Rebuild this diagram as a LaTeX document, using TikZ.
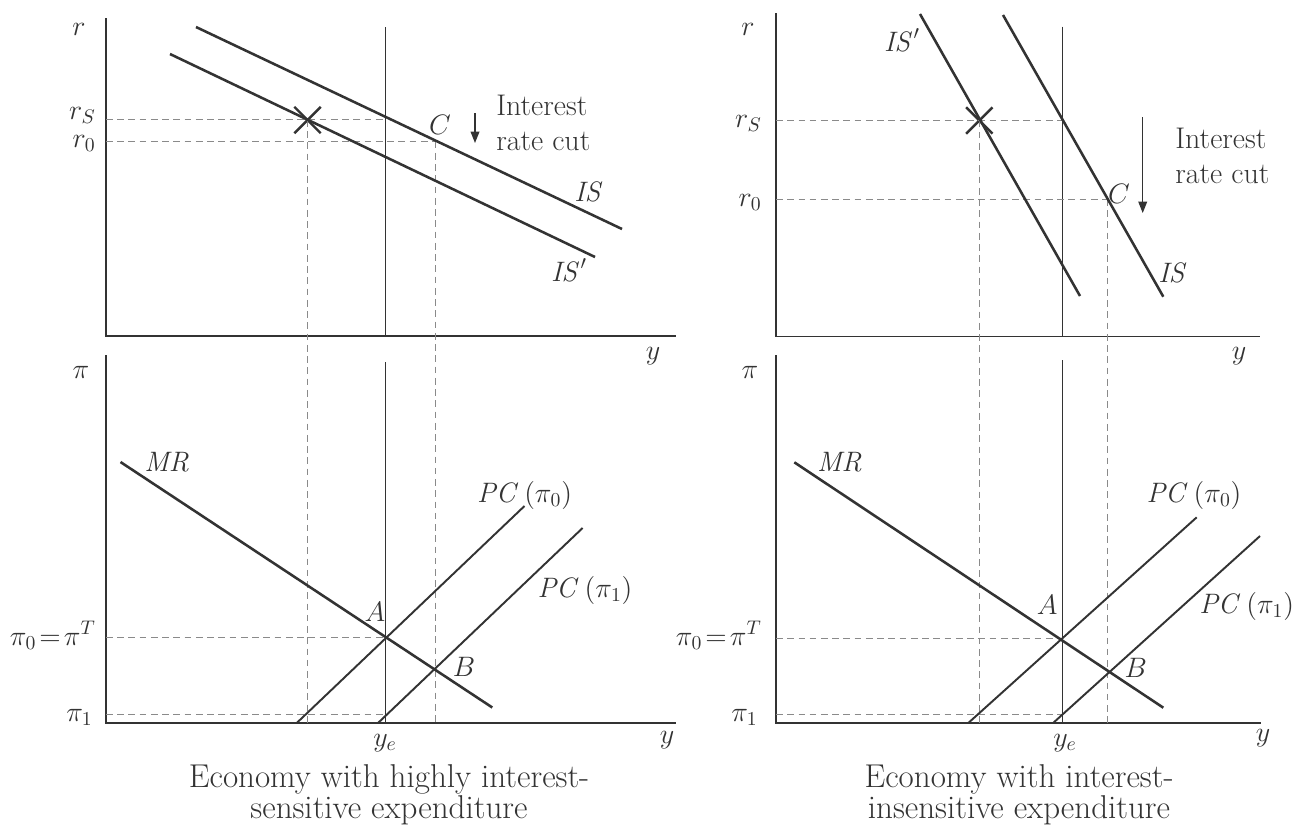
\documentclass[tikz,border=0pt]{standalone}
\usepackage{fix-cm}
\usetikzlibrary{arrows.meta,shapes.misc}
\definecolor{ink}{HTML}{333333}
\definecolor{guidegray}{HTML}{8A8A8A}
\begin{document}
\begin{tikzpicture}[x=0.02cm,y=-0.02cm,
  axisline/.style={line width=0.9pt, draw=ink},
  curve/.style={line width=1.45pt, draw=ink},
  pcline/.style={line width=1.1pt, draw=ink},
  yeline/.style={line width=0.75pt, draw=ink},
  guide/.style={line width=0.55pt, draw=guidegray, dash pattern=on 3.8pt off 2.6pt},
  lbl/.style={inner sep=0pt, text=ink, font=\fontsize{16}{18}\selectfont},
  notetext/.style={inner sep=0pt, text=ink, font=\fontsize{17}{20}\selectfont},
  captext/.style={inner sep=0pt, text=ink, align=center, font=\fontsize{18.8}{15.4}\selectfont},
  xmark/.style={cross out, draw=ink, line width=1.4pt, minimum size=13.6pt, inner sep=0pt},
  cutarrow/.style={draw=ink, line width=0.7pt, -{Triangle[width=5pt,length=6.5pt]}}
]
\path[use as bounding box, fill=white] (0,0) rectangle (1304,833);

%================ LEFT PANEL =================
\coordinate (LtTop) at (106,18);
\coordinate (LtO) at (106,336);
\coordinate (LtEnd) at (676,336);
\draw[axisline] (LtTop) -- (LtO) -- (LtEnd);
\coordinate (LbTop) at (106,355);
\coordinate (LbO) at (106,723);
\coordinate (LbEnd) at (676,723);
\draw[axisline] (LbTop) -- (LbO) -- (LbEnd);
\coordinate (LyeT1) at (385.5,27);
\coordinate (LyeB1) at (385.5,336);
\coordinate (LyeT2) at (385.5,362);
\coordinate (LyeB2) at (385.5,723);
\draw[yeline] (LyeT1) -- (LyeB1);
\draw[yeline] (LyeT2) -- (LyeB2);
\coordinate (LrS) at (106,119.5);
\coordinate (LrSye) at (385.5,119.5);
\coordinate (Lr0) at (106,141.7);
\coordinate (LC) at (435,141.7);
\coordinate (LCbot) at (435,723);
\coordinate (LXbot) at (307.5,723);
\coordinate (LA) at (385.5,637.7);
\coordinate (LB) at (435,668.5);
\coordinate (Lpi0) at (106,637.7);
\coordinate (Lpi1) at (106,714.5);
\coordinate (Lpi1ye) at (385.5,714.5);
\node[xmark] (LX) at (307.5,120) {};
\draw[guide] (LrS) -- (LrSye);
\draw[guide] (Lr0) -- (LC);
\draw[guide] (LX.center) -- (LXbot);
\draw[guide] (LC) -- (LCbot);
\draw[guide] (Lpi0) -- (LA);
\draw[guide] (Lpi1) -- (Lpi1ye);
\coordinate (LIS1) at (196,27);
\coordinate (LIS2) at (622,229);
\coordinate (LISp1) at (170,54);
\coordinate (LISp2) at (595,257);
\draw[curve] (LIS1) -- (LIS2);
\draw[curve] (LISp1) -- (LISp2);
\coordinate (LMR1) at (120.5,462);
\coordinate (LMR2) at (492.3,707.5);
\coordinate (LPC01) at (296.7,723);
\coordinate (LPC02) at (524.5,506);
\coordinate (LPC11) at (378,723);
\coordinate (LPC12) at (582.6,528);
\draw[curve] (LMR1) -- (LMR2);
\draw[pcline] (LPC01) -- (LPC02);
\draw[pcline] (LPC11) -- (LPC12);
\coordinate (LarT) at (475,113);
\coordinate (LarB) at (475,143);
\draw[cutarrow] (LarT) -- (LarB);
\node[lbl, anchor=base] (Lr) at (79,35) {$r$};
\node[lbl, anchor=base east] (LrSl) at (96,119) {$r_S$};
\node[lbl, anchor=base east] (Lr0l) at (96,147) {$r_0$};
\node[lbl] (Lyt) at (653,356) {$y$};
\node[lbl] (LCl) at (440,125) {$C$};
\node[notetext, anchor=base west] (Lint1) at (496,115) {Interest};
\node[notetext, anchor=base west] (Lint2) at (496,150) {rate cut};
\node[lbl] (LISl) at (589,192) {$\mathit{IS}$};
\node[lbl] (LISpl) at (569,270) {$\mathit{IS}'$};
\node[lbl] (Lpi) at (81,372) {$\pi$};
\node[lbl, anchor=base east] (Lpi0l) at (96,645) {$\pi_0\!=\!\pi^T$};
\node[lbl, anchor=base east] (Lpi1l) at (93,721) {$\pi_1$};
\node[lbl, anchor=west] (LMRl) at (144,462) {$\mathit{MR}$};
\node[lbl] (LPC0l) at (524.6,495) {$\mathit{PC}\,(\pi_0)$};
\node[lbl] (LPC1l) at (585,590) {$\mathit{PC}\,(\pi_1)$};
\node[lbl] (LAl) at (375,612) {$A$};
\node[lbl] (LBl) at (464,667) {$B$};
\node[lbl] (Lyel) at (385,743) {$y_e$};
\node[lbl] (Lyb) at (667,740) {$y$};
\node[captext, anchor=north] (Lcap) at (389,764) {Economy with highly interest-\\sensitive expenditure};

%================ RIGHT PANEL =================
\coordinate (RtTop) at (776,13.3);
\coordinate (RtO) at (776,336.5);
\coordinate (RtEnd) at (1260,336.5);
\draw[axisline] (RtTop) -- (RtO) -- (RtEnd);
\coordinate (RbTop) at (776,355);
\coordinate (RbO) at (776,722.7);
\coordinate (RbEnd) at (1261,722.7);
\draw[axisline] (RbTop) -- (RbO) -- (RbEnd);
\coordinate (RyeT1) at (1062.7,26.7);
\coordinate (RyeB1) at (1062.7,336.5);
\coordinate (RyeT2) at (1062.7,360);
\coordinate (RyeB2) at (1062.7,722.7);
\draw[yeline] (RyeT1) -- (RyeB1);
\draw[yeline] (RyeT2) -- (RyeB2);
\coordinate (RrS) at (776,120.5);
\coordinate (RrSye) at (1062.7,120.5);
\coordinate (Rr0) at (776,199);
\coordinate (RC) at (1107.3,199);
\coordinate (RCbot) at (1107.3,722.7);
\coordinate (RXbot) at (979.3,722.7);
\coordinate (RA) at (1062.7,638);
\coordinate (Rpi0) at (776,638);
\coordinate (Rpi1) at (776,714.3);
\coordinate (Rpi1ye) at (1062.7,714.3);
\node[xmark] (RX) at (979.3,120.5) {};
\draw[guide] (RrS) -- (RrSye);
\draw[guide] (Rr0) -- (RC);
\draw[guide] (RX.center) -- (RXbot);
\draw[guide] (RC) -- (RCbot);
\draw[guide] (Rpi0) -- (RA);
\draw[guide] (Rpi1) -- (Rpi1ye);
\coordinate (RIS1) at (1003,15);
\coordinate (RIS2) at (1163.3,296.7);
\coordinate (RISp1) at (920,14);
\coordinate (RISp2) at (1080,296);
\draw[curve] (RIS1) -- (RIS2);
\draw[curve] (RISp1) -- (RISp2);
\coordinate (RMR1) at (794.3,462.3);
\coordinate (RMR2) at (1163.3,707.7);
\coordinate (RPC01) at (968.6,722.7);
\coordinate (RPC02) at (1196.7,517.3);
\coordinate (RPC11) at (1053.4,722.7);
\coordinate (RPC12) at (1260,536);
\draw[curve] (RMR1) -- (RMR2);
\draw[pcline] (RPC01) -- (RPC02);
\draw[pcline] (RPC11) -- (RPC12);
\coordinate (RarT) at (1142.7,117);
\coordinate (RarB) at (1142.7,213);
\draw[cutarrow] (RarT) -- (RarB);
\node[lbl, anchor=base] (Rr) at (748,35) {$r$};
\node[lbl, anchor=base east] (RrSl) at (762,127) {$r_S$};
\node[lbl, anchor=base east] (Rr0l) at (762,206) {$r_0$};
\node[lbl] (Ryt) at (1239,356) {$y$};
\node[lbl] (RCl) at (1119,194) {$C$};
\node[notetext, anchor=base west] (Rint1) at (1175,148) {Interest};
\node[notetext, anchor=base west] (Rint2) at (1175,183) {rate cut};
\node[lbl] (RISl) at (1173,273) {$\mathit{IS}$};
\node[lbl] (RISpl) at (902,40) {$\mathit{IS}'$};
\node[lbl] (Rpi) at (750,372) {$\pi$};
\node[lbl, anchor=base east] (Rpi0l) at (762,645) {$\pi_0\!=\!\pi^T$};
\node[lbl, anchor=base east] (Rpi1l) at (758,721) {$\pi_1$};
\node[lbl, anchor=west] (RMRl) at (816.7,462) {$\mathit{MR}$};
\node[lbl] (RPC0l) at (1194,495) {$\mathit{PC}\,(\pi_0)$};
\node[lbl] (RPC1l) at (1246.7,606.7) {$\mathit{PC}\,(\pi_1)$};
\node[lbl] (RAl) at (1047.3,605) {$A$};
\node[lbl] (RBl) at (1135.7,668.3) {$B$};
\node[lbl] (Ryel) at (1065,743) {$y_e$};
\node[lbl] (Ryb) at (1263,738) {$y$};
\node[captext, anchor=north] (Rcap) at (1019,764) {Economy with interest-\\insensitive expenditure};
\end{tikzpicture}
\end{document}
